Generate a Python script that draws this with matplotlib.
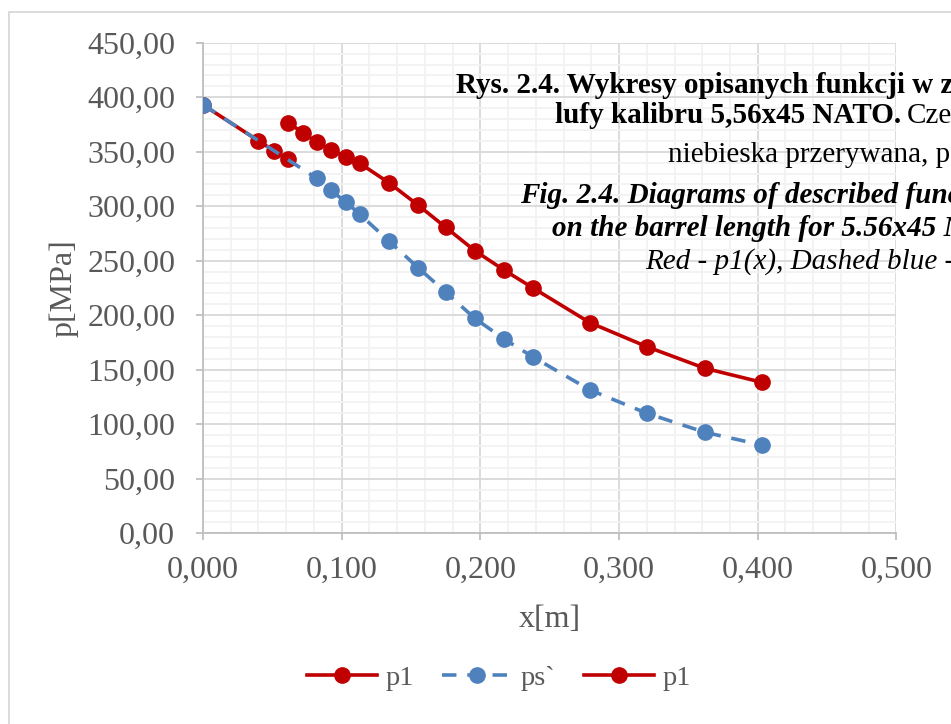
import matplotlib
matplotlib.use("Agg")
import matplotlib.pyplot as plt
from matplotlib.ticker import MultipleLocator, FuncFormatter
from matplotlib.patches import Rectangle

plt.rcParams['font.family'] = ['Liberation Serif', 'DejaVu Serif']

# data
x_p1a = [0.000, 0.040, 0.051, 0.061]
p1a = [393.0, 360.0, 351.0, 343.0]

x_ps = [0.000, 0.082, 0.092, 0.103, 0.113, 0.134, 0.155, 0.175, 0.196,
        0.217, 0.238, 0.279, 0.320, 0.362, 0.403]
ps = [393.0, 325.6, 314.6, 303.9, 292.7, 268.1, 243.8, 221.1, 197.2,
      178.2, 161.7, 131.5, 110.1, 92.6, 81.0]

x_p1b = [0.061, 0.072, 0.082, 0.092, 0.103, 0.113, 0.134, 0.155, 0.175,
         0.196, 0.217, 0.238, 0.279, 0.320, 0.362, 0.403]
p1b = [376.8, 367.6, 358.6, 351.6, 345.4, 339.4, 321.6, 301.1, 280.7,
       259.2, 241.5, 225.0, 193.2, 171.2, 151.3, 138.5]

labels = ['p1', 'ps`', 'p1']

RED = '#C00000'
BLUE = '#4F81BD'
GREY_TXT = '#595959'

W, H = 951, 724
fig = plt.figure(figsize=(W / 100, H / 100), dpi=100)

# chart area border (only left and top edges are inside the picture)
fig.patches.append(Rectangle((8.5 / W, -0.1), 1.2, 1.1 - 12 / H,
                             transform=fig.transFigure, fill=False,
                             edgecolor='#D9D9D9', lw=1.3))

left, right, top, bottom = 203, 896.4, 42.7, 533.3
ax = fig.add_axes([left / W, 1 - bottom / H, (right - left) / W, (bottom - top) / H])

ax.plot(x_p1a, p1a, color=RED, lw=2.6, marker='o', ms=11, mec=RED,
        label=labels[0], zorder=3)
ax.plot(x_ps, ps, color=BLUE, lw=2.6, dashes=(4, 3), marker='o', ms=11,
        mec=BLUE, label=labels[1], zorder=4)
ax.plot(x_p1b, p1b, color=RED, lw=2.6, marker='o', ms=11, mec=RED,
        label=labels[2], zorder=5)

ax.set_xlim(0, 0.5)
ax.set_ylim(0, 450)
ax.xaxis.set_major_locator(MultipleLocator(0.1))
ax.xaxis.set_minor_locator(MultipleLocator(0.02))
ax.yaxis.set_major_locator(MultipleLocator(50))
ax.yaxis.set_minor_locator(MultipleLocator(10))
ax.xaxis.set_major_formatter(FuncFormatter(lambda v, p: f"{v:.3f}".replace('.', ',')))
ax.yaxis.set_major_formatter(FuncFormatter(lambda v, p: f"{v:.2f}".replace('.', ',')))

ax.grid(which='minor', color='#F2F2F2', lw=1.3, zorder=0)
ax.grid(which='major', color='#D9D9D9', lw=1.3, zorder=1)
ax.set_axisbelow(True)
for s in ['top', 'right']:
    ax.spines[s].set_visible(False)
for s in ['left', 'bottom']:
    ax.spines[s].set_color('#BFBFBF')
    ax.spines[s].set_linewidth(1.3)

ax.tick_params(which='major', length=5, width=1.3, color='#BFBFBF',
               labelsize=23, labelcolor=GREY_TXT)
ax.tick_params(axis='y', pad=15)
ax.tick_params(axis='x', pad=11)
ax.tick_params(which='minor', length=0)

ax.set_xlabel('x[m]', fontsize=23, color=GREY_TXT, va='top')
ax.xaxis.set_label_coords(0.5, -(605 - bottom) / (bottom - top))
ax.set_ylabel('p[MPa]', fontsize=23, color=GREY_TXT, va='center')
ax.yaxis.set_label_coords((64 - left) / (right - left), 0.5)

ax.legend(loc='center', bbox_to_anchor=(499 / W, 1 - 678 / H),
          bbox_transform=fig.transFigure, ncol=3, frameon=False,
          fontsize=20.5, labelcolor=GREY_TXT, handlelength=2.45,
          handletextpad=0.3, columnspacing=1.0)

# caption pasted over the chart, cut off by the right edge
fs = 21
def put(x, y, s, **kw):
    return fig.text(x / W, 1 - y / H, s, fontsize=fs, color='black',
                    va='baseline', ha='left', **kw)

put(456, 93.3, 'Rys. 2.4. Wykresy opisanych funkcji w zależności', weight='bold')
t2 = put(555, 122.7, 'lufy kalibru 5,56x45 NATO.', weight='bold')
put(668, 161.7, 'niebieska przerywana, ps(x)')
put(520, 202.7, 'Fig. 2.4. Diagrams of described functions', weight='bold', style='italic')
put(552, 236, 'on the barrel length for 5.56x45 NATO.', weight='bold', style='italic')
put(645, 269, 'Red - p1(x), Dashed blue - ps(x)', style='italic')

fig.canvas.draw()
bb = t2.get_window_extent()
put(bb.x1 + 6, 122.7, 'Czerwona')

fig.savefig('out.png', dpi=100)
